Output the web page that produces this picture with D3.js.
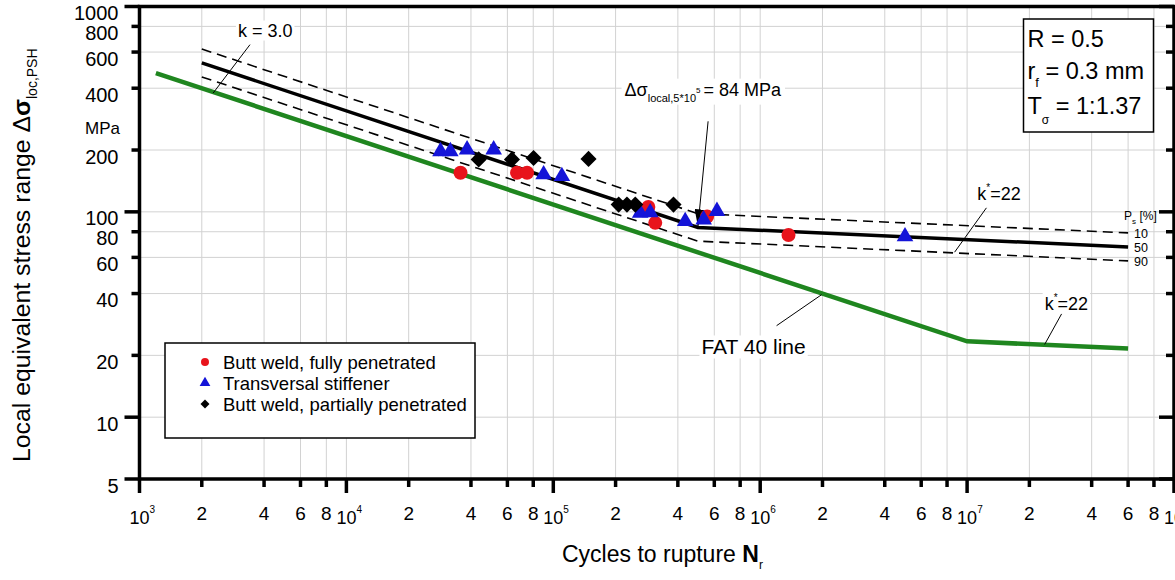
<!DOCTYPE html>
<html>
<head>
<meta charset="utf-8">
<script src="https://cdn.jsdelivr.net/npm/d3@7"></script>
<style>
  body { margin: 0; background: #fff; }
  svg { font-family: "Liberation Sans", Arial, sans-serif; }
</style>
</head>
<body>
<div id="chart"></div>
<script>
// --- data (N in cycles, stress range in MPa) ---
const xDecades = [1e3, 1e4, 1e5, 1e6, 1e7, 1e8];
const xMinorMult = [2, 4, 6, 8];
const yTickValues = [5, 10, 20, 40, 60, 80, 100, 200, 400, 600, 800, 1000];
const yLongTicks = [5, 10, 100, 1000];

const buttFull = [[3.56e4, 155], [6.68e4, 155], [7.47e4, 155], [2.88e5, 105.5],
                  [3.11e5, 88.4], [5.54e5, 94.9], [1.37e6, 77.1]];
const stiffener = [[2.85e4, 197], [3.18e4, 197], [3.83e4, 201], [5.15e4, 201],
                   [8.98e4, 152], [1.10e5, 149], [2.63e5, 98.9], [2.94e5, 99.2],
                   [4.34e5, 90], [5.33e5, 91.7], [6.18e5, 100.7], [5.01e6, 75.8]];
const buttPartial = [[4.36e4, 180], [6.31e4, 180], [8.03e4, 183], [1.48e5, 181],
                     [2.07e5, 108.5], [2.27e5, 108.5], [2.49e5, 108.5], [3.81e5, 108.5]];

const line50 = [[2e3, 531], [5e5, 84], [6e7, 67.5]];
const line10 = [[2e3, 621], [5e5, 98], [6e7, 79]];
const line90 = [[2e3, 454], [5e5, 72], [6e7, 57.7]];
const fat40 = [[1.2e3, 474], [1e7, 23.4], [6e7, 21.6]];

const legendItems = ["Butt weld, fully penetrated", "Transversal stiffener", "Butt weld, partially penetrated"];
const psLabels = ["10", "50", "90"];

const W = 1175, H = 580;
const svg = d3.select("#chart").append("svg").attr("width", W).attr("height", H);

const x = d3.scaleLog().domain([1e3, 1e8]).range([139.5, 1174]);
const y = d3.scaleLog().domain([5, 1000]).range([479, 6.5]);

const xMinor = [];
xDecades.slice(0, -1).forEach(d => xMinorMult.forEach(m => xMinor.push(d * m)));

// arrow head
svg.append("defs").append("marker")
    .attr("id", "arrow").attr("viewBox", "0 0 17 10")
    .attr("refX", 17).attr("refY", 5)
    .attr("markerWidth", 17).attr("markerHeight", 10)
    .attr("markerUnits", "userSpaceOnUse").attr("orient", "auto")
  .append("path").attr("d", "M0,0L17,5L0,10Z").attr("fill", "#000");

// grid
const grid = svg.append("g").attr("stroke", "#d2d2d2").attr("stroke-width", 1);
grid.selectAll(".gx").data(xMinor.concat(xDecades.slice(1, -1))).join("line")
    .attr("x1", d => x(d)).attr("x2", d => x(d))
    .attr("y1", y(1000)).attr("y2", y(5));
grid.selectAll(".gy").data(yTickValues.slice(1, -1)).join("line")
    .attr("x1", x(1e3)).attr("x2", x(1e8))
    .attr("y1", d => y(d)).attr("y2", d => y(d));

// curves
const line = d3.line().x(d => x(d[0])).y(d => y(d[1]));
svg.append("path").datum(fat40).attr("d", line)
    .attr("fill", "none").attr("stroke", "#1f861f").attr("stroke-width", 4.5);
[line10, line90].forEach(l => svg.append("path").datum(l).attr("d", line)
    .attr("fill", "none").attr("stroke", "#000").attr("stroke-width", 1.6)
    .attr("stroke-dasharray", "10,6"));
svg.append("path").datum(line50).attr("d", line)
    .attr("fill", "none").attr("stroke", "#000").attr("stroke-width", 3.5);

// helper: white box behind a text element
function backing(t, pad) {
  const b = t.node().getBBox();
  svg.insert("rect", function() { return t.node(); })
     .attr("x", b.x - pad).attr("y", b.y - pad + 2)
     .attr("width", b.width + 2 * pad).attr("height", b.height + 2 * pad - 4)
     .attr("fill", "#fff");
}

// annotations
function leader(a, b) {
  return svg.append("line")
    .attr("x1", x(a[0])).attr("y1", y(a[1])).attr("x2", x(b[0])).attr("y2", y(b[1]))
    .attr("stroke", "#000").attr("stroke-width", 1);
}
leader([3.42e3, 652], [2.27e3, 379]);
let t = svg.append("text").attr("x", x(2.99e3)).attr("y", y(714)).attr("font-size", 18).text("k = 3.0");
backing(t, 2);

leader([5.6e5, 276], [5e5, 85]).attr("marker-end", "url(#arrow)");
t = svg.append("text").attr("x", x(2.21e5)).attr("y", y(368)).attr("font-size", 18);
t.append("tspan").text("Δσ");
t.append("tspan").attr("font-size", 11).attr("dy", 6).text("local,5*10");
t.append("tspan").attr("font-size", 8).attr("dy", -9).text("5");
t.append("tspan").attr("dy", 3).attr("dx", 3).text("= 84 MPa");
backing(t, 3);

leader([1.24e7, 104.6], [8.7e6, 63.6]);
t = svg.append("text").attr("x", x(1.12e7)).attr("y", y(114.8)).attr("font-size", 18);
t.append("tspan").text("k");
t.append("tspan").attr("font-size", 10).attr("dy", -9).text("*");
t.append("tspan").attr("dy", 9).text("=22");
backing(t, 2);

leader([1.2e6, 27.9], [1.98e6, 39.5]);
t = svg.append("text").attr("x", x(5.2e5)).attr("y", y(20.2)).attr("font-size", 21).text("FAT 40 line");
backing(t, 2);

leader([2.88e7, 32.2], [2.37e7, 22.6]);
t = svg.append("text").attr("x", x(2.37e7)).attr("y", y(33.3)).attr("font-size", 18);
t.append("tspan").text("k");
t.append("tspan").attr("font-size", 10).attr("dy", -9).text("*");
t.append("tspan").attr("dy", 9).text("=22");
backing(t, 2);

// P_s labels at the curve ends
const ends = [line10, line50, line90].map(l => l[l.length - 1]);
t = svg.append("text").attr("x", x(6e7) - 4).attr("y", y(ends[0][1]) - 13).attr("font-size", 12);
t.append("tspan").text("P");
t.append("tspan").attr("font-size", 8).attr("dy", 4).text("s");
t.append("tspan").attr("dy", -4).text(" [%]");
svg.selectAll(".ps").data(ends).join("text")
    .attr("x", x(6e7) + 6).attr("y", d => y(d[1]) + 5)
    .attr("font-size", 12.5).text((d, i) => psLabels[i]);

// markers
svg.selectAll(".full").data(buttFull).join("circle")
    .attr("cx", d => x(d[0])).attr("cy", d => y(d[1])).attr("r", 7).attr("fill", "#e8141c");
svg.selectAll(".stiff").data(stiffener).join("path")
    .attr("d", d3.symbol(d3.symbolTriangle, 120))
    .attr("transform", d => `translate(${x(d[0])},${y(d[1])})`).attr("fill", "#1414d8");
svg.selectAll(".part").data(buttPartial).join("path")
    .attr("d", d3.symbol(d3.symbolSquare, 130))
    .attr("transform", d => `translate(${x(d[0])},${y(d[1])}) rotate(45)`).attr("fill", "#000");

// legend
const lg = svg.append("g");
lg.append("rect").attr("x", 165).attr("y", 343).attr("width", 310).attr("height", 95)
    .attr("fill", "#fff").attr("stroke", "#000").attr("stroke-width", 1.5);
const syms = [d3.symbol(d3.symbolCircle, 50), d3.symbol(d3.symbolTriangle, 50), d3.symbol(d3.symbolSquare, 40)];
const symCol = ["#e8141c", "#1414d8", "#000"];
legendItems.forEach((s, i) => {
  const cy = 362 + i * 21;
  lg.append("path").attr("d", syms[i]).attr("fill", symCol[i])
    .attr("transform", `translate(205,${cy})` + (i === 2 ? " rotate(45)" : ""));
  lg.append("text").attr("x", 223).attr("y", cy + 6.5).attr("font-size", 18.5).text(s);
});

// info box
const ib = svg.append("g");
ib.append("rect").attr("x", 1023.5).attr("y", 19).attr("width", 130).attr("height", 113)
    .attr("fill", "#fff").attr("stroke", "#000").attr("stroke-width", 1.5);
ib.append("text").attr("x", 1027.5).attr("y", 46.5).attr("font-size", 23.5).text("R = 0.5");
t = ib.append("text").attr("x", 1027.5).attr("y", 78.5).attr("font-size", 23.5);
t.append("tspan").text("r");
t.append("tspan").attr("font-size", 13).attr("dy", 8).text("f");
t.append("tspan").attr("dy", -8).text(" = 0.3 mm");
t = ib.append("text").attr("x", 1027.5).attr("y", 113.5).attr("font-size", 23.5);
t.append("tspan").text("T");
t.append("tspan").attr("font-size", 12).attr("dy", 10).text("σ");
t.append("tspan").attr("dy", -10).text(" = 1:1.37");

// frame and ticks
svg.append("rect").attr("x", x(1e3)).attr("y", y(1000))
    .attr("width", x(1e8) - x(1e3)).attr("height", y(5) - y(1000))
    .attr("fill", "none").attr("stroke", "#000").attr("stroke-width", 3.5);

const tk = svg.append("g").attr("stroke", "#000").attr("stroke-width", 3.5);
tk.selectAll(".yl").data(yTickValues).join("line")
    .attr("x1", d => x(1e3) - (yLongTicks.includes(d) ? 15 : 8)).attr("x2", x(1e3))
    .attr("y1", d => y(d)).attr("y2", d => y(d));
tk.selectAll(".yr").data(yTickValues).join("line")
    .attr("x1", d => x(1e8) - (yLongTicks.includes(d) ? 15 : 8)).attr("x2", x(1e8))
    .attr("y1", d => y(d)).attr("y2", d => y(d));
tk.selectAll(".xm").data(xMinor).join("line")
    .attr("x1", d => x(d)).attr("x2", d => x(d)).attr("y1", y(5)).attr("y2", y(5) + 8);
tk.selectAll(".xM").data(xDecades).join("line")
    .attr("x1", d => x(d)).attr("x2", d => x(d)).attr("y1", y(5)).attr("y2", y(5) + 14);

// tick labels
svg.selectAll(".ylab").data(yTickValues).join("text")
    .attr("x", 118.5).attr("y", d => y(d) + 13.6).attr("text-anchor", "end")
    .attr("font-size", 20).text(d => d);
svg.append("text").attr("x", 120).attr("y", 134).attr("text-anchor", "end")
    .attr("font-size", 17).text("MPa");

svg.selectAll(".xlab").data(xMinor).join("text")
    .attr("x", d => x(d)).attr("y", 520).attr("text-anchor", "middle")
    .attr("font-size", 19).text(d => Math.round(d / Math.pow(10, Math.floor(Math.log10(d) + 1e-9))));
xDecades.forEach(d => {
  const tt = svg.append("text").attr("x", x(d) - 10).attr("y", 524).attr("font-size", 18);
  tt.append("tspan").text("10");
  tt.append("tspan").attr("font-size", 10).attr("dy", -11).text(Math.round(Math.log10(d)));
});

// axis titles
t = svg.append("text").attr("x", 562).attr("y", 562).attr("font-size", 23);
t.append("tspan").text("Cycles to rupture ");
t.append("tspan").attr("font-weight", "bold").text("N");
t.append("tspan").attr("font-size", 12).attr("dy", 7).text("r");

t = svg.append("text").attr("transform", "translate(30,462) rotate(-90)").attr("font-size", 24.8);
t.append("tspan").text("Local equivalent stress range Δ");
t.append("tspan").attr("font-weight", "bold").text("σ");
t.append("tspan").attr("font-size", 14).attr("dy", 7).text("loc,PSH");
</script>
</body>
</html>
